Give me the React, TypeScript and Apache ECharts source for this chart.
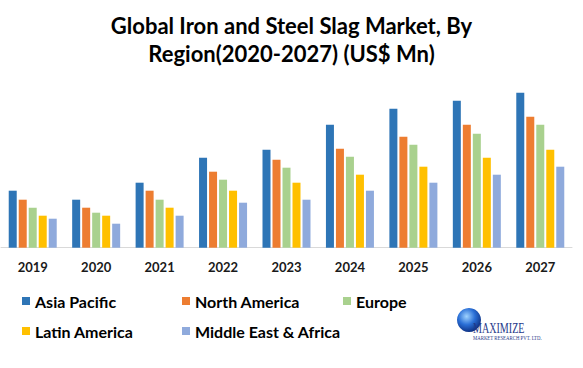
import React, { useEffect, useRef } from "react";
import * as echarts from "echarts";

const years = ["2019", "2020", "2021", "2022", "2023", "2024", "2025", "2026", "2027"];
const asiaPacific = [57, 48, 65, 90, 98, 123, 139, 147, 155];
const northAmerica = [48, 40, 57, 76, 88, 99, 111, 123, 131];
const europe = [40, 35, 48, 68, 80, 91, 103, 114, 123];
const latinAmerica = [32, 32, 40, 57, 65, 73, 81, 90, 98];
const middleEastAfrica = [29, 24, 32, 45, 48, 57, 65, 73, 81];

const seriesNames = ["Asia Pacific", "North America", "Europe", "Latin America", "Middle East & Africa"];
const seriesData = [asiaPacific, northAmerica, europe, latinAmerica, middleEastAfrica];
const colors = ["#2E75B6", "#ED7D31", "#A9D18E", "#FFC000", "#8FAADC"];

const legendPos = [
  { left: 22, top: 293 },
  { left: 182, top: 293 },
  { left: 343, top: 293 },
  { left: 22, top: 323 },
  { left: 182, top: 323 },
];

export default function App() {
  const ref = useRef<HTMLDivElement>(null);
  useEffect(() => {
    if (!ref.current) return;
    const chart = echarts.init(ref.current, null, { renderer: "svg" });
    const font = "Lato, 'Open Sans', sans-serif";
    chart.setOption({
      animation: false,
      backgroundColor: "#ffffff",
      title: {
        text: "Global Iron and Steel Slag Market, By\nRegion(2020-2027) (US$ Mn)",
        left: "center",
        top: 6,
        textStyle: {
          fontFamily: font,
          fontWeight: "bold",
          fontSize: 22,
          lineHeight: 28,
          color: "#000000",
        },
      },
      legend: seriesNames.map((n, i) => ({
        data: [n],
        left: legendPos[i].left,
        top: legendPos[i].top,
        padding: 0,
        icon: "rect",
        itemWidth: 8,
        itemHeight: 8,
        itemGap: 5,
        selectedMode: false,
        textStyle: { fontFamily: font, fontWeight: "bold", fontSize: 16, color: "#000000" },
      })),
      grid: { left: 1, right: 11, top: 87.7, bottom: 120.3, containLabel: false },
      xAxis: {
        type: "category",
        data: years,
        axisLine: { lineStyle: { color: "#d9d9d9", width: 1 } },
        axisTick: { show: false },
        axisLabel: {
          margin: 13,
          fontFamily: font,
          fontWeight: "bold",
          fontSize: 13,
          color: "#1a1a1a",
        },
      },
      yAxis: {
        type: "value",
        min: 0,
        max: 160,
        show: false,
        splitLine: { show: false },
      },
      series: seriesNames.map((n, i) => ({
        name: n,
        type: "bar",
        data: seriesData[i],
        barWidth: 8,
        barGap: "25%",
        itemStyle: { color: colors[i] },
      })),
      graphic: [
        {
          type: "circle",
          shape: { cx: 469, cy: 320, r: 12 },
          style: {
            fill: new echarts.graphic.RadialGradient(0.4, 0.35, 0.7, [
              { offset: 0, color: "#9fd3ff" },
              { offset: 0.5, color: "#2a6fd6" },
              { offset: 1, color: "#0b2a7a" },
            ]),
          },
        },
        {
          type: "text",
          x: 473,
          y: 321,
          scaleX: 0.72,
          style: {
            text: "MAXIMIZE",
            fontFamily: "'Liberation Serif', serif",
            fontSize: 14,
            fill: "#1f3a8a",
          },
        },
        {
          type: "text",
          x: 473,
          y: 335,
          scaleX: 0.8,
          style: {
            text: "MARKET RESEARCH PVT. LTD.",
            fontFamily: "'Liberation Serif', serif",
            fontSize: 6,
            fill: "#1f3a8a",
          },
        },
      ],
    });
    return () => chart.dispose();
  }, []);
  return <div ref={ref} style={{ width: 583, height: 368, position: "absolute", left: 0, top: 0 }} />;
}
